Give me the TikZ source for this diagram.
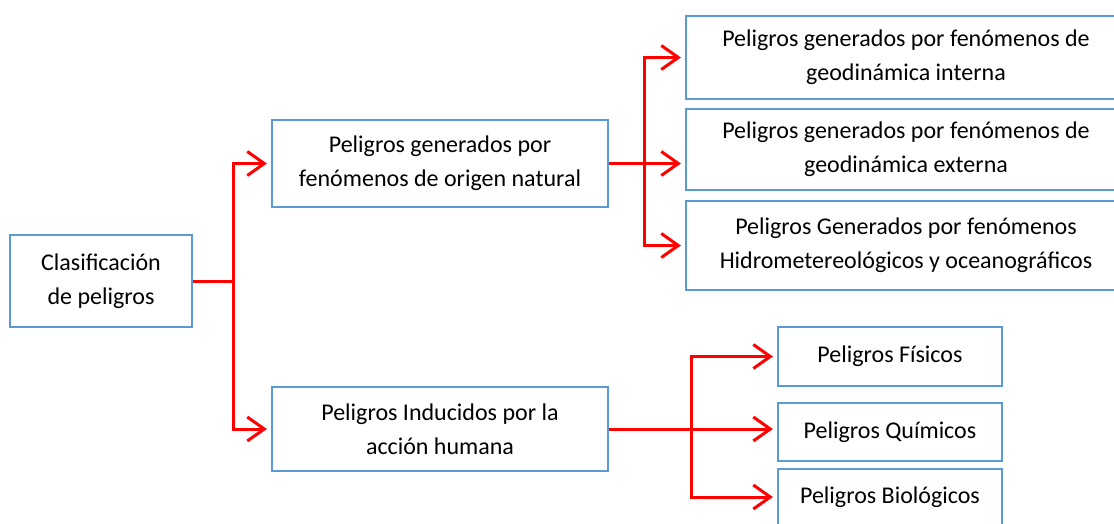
\documentclass[tikz,border=0pt]{standalone}
\usepackage{fontspec}
\setmainfont{Carlito}
\usetikzlibrary{arrows.meta, positioning}
\definecolor{boxblue}{RGB}{91,155,213}
\tikzstyle{mainbox} = [rectangle, minimum width=182pt, minimum height=92pt, inner sep=0pt, text centered, align=center, draw=boxblue, line width=2.2pt, fill=white]
\tikzstyle{midbox} = [mainbox, minimum width=336pt]
\tikzstyle{widebox} = [mainbox, minimum width=440pt]
\tikzstyle{smallbox} = [mainbox, minimum width=224pt]
\tikzstyle{redline} = [red, line width=3pt]
\tikzstyle{arrow} = [redline, -{Straight Barb[length=17pt, width=24pt, line width=3pt]}, shorten >=4pt]

\begin{document}
\begin{tikzpicture}[x=1pt, y=-1pt, font=\fontsize{24}{34}\selectfont]
\useasboundingbox (0,0) rectangle (1114,523);
\node (clasif)   [mainbox] at (101,281) 			{Clasificación\\de peligros};
\node (natural)  [midbox, minimum height=87pt] at (440,163.5) {Peligros generados por\\fenómenos de origen natural};
\node (human)    [midbox, minimum height=84pt] at (440,429) 	{Peligros Inducidos por la\\acción humana};
\node (geoint)   [widebox, minimum height=83pt] at (906,57.5) 	{Peligros generados por fenómenos de\\geodinámica interna};
\node (geoext)   [widebox, minimum height=81pt] at (906,149.5) {Peligros generados por fenómenos de\\geodinámica externa};
\node (hidro)    [widebox, minimum height=89pt] at (906,245.5) {Peligros Generados por fenómenos\\Hidrometereológicos y oceanográficos};
\node (fisicos)  [smallbox, minimum height=59pt] at (890,356.5) {Peligros Físicos};
\node (quimicos) [smallbox, minimum height=58pt] at (890,432) 	{Peligros Químicos};
\node (biologicos) [smallbox, minimum height=56pt] at (890,497) {Peligros Biológicos};
% branch points
\coordinate (j1) at ([xshift=40pt]clasif.east);
\coordinate (j2) at ([xshift=35pt]natural.east);
\coordinate (j3) at ([xshift=82pt]human.east);
\draw [redline] (clasif.east) -- (j1);
\draw [arrow] (j1) |- (natural.west);
\draw [arrow] (j1) |- (human.west);
\draw [arrow] (j2) |- (geoint.west);
\draw [arrow] (natural.east) -- (natural.east -| geoext.west);
\draw [arrow] (j2) |- (hidro.west);
\draw [arrow] (j3) |- (fisicos.west);
\draw [arrow] (human.east) -- (human.east -| quimicos.west);
\draw [arrow] (j3) |- (biologicos.west);
\end{tikzpicture}
\end{document}
